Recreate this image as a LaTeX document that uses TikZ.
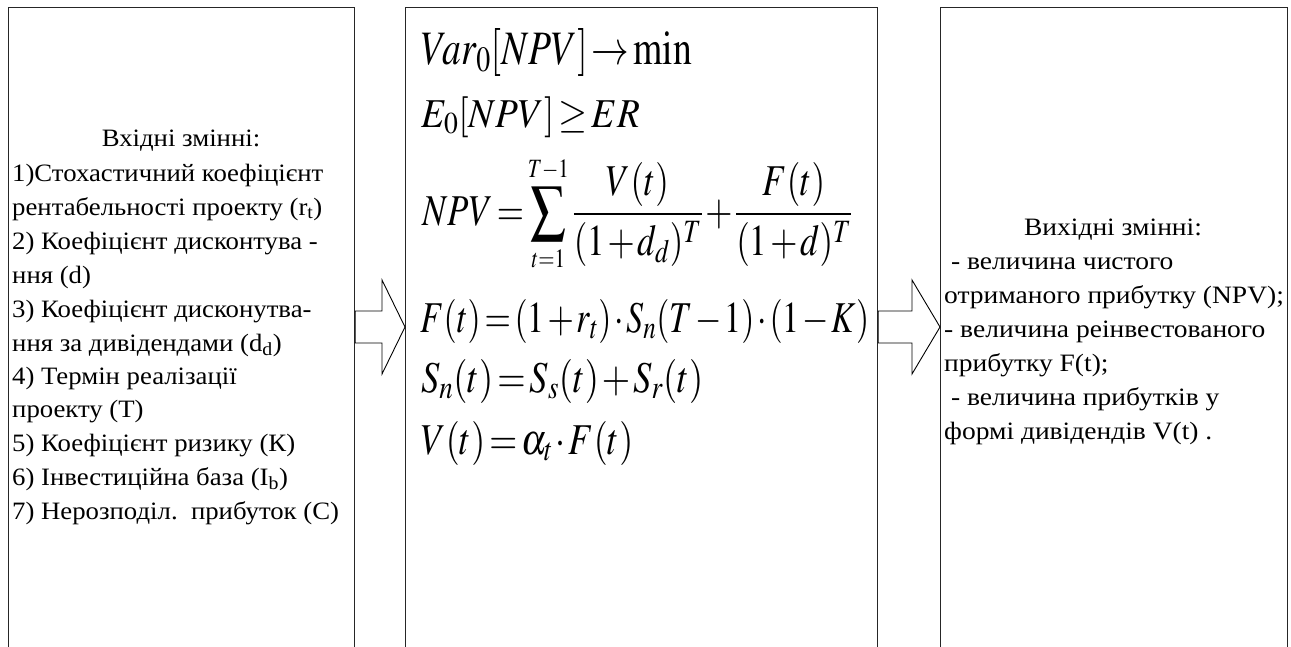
\documentclass[tikz,border=0pt]{standalone}
\usepackage{mathptmx}
\usepackage[no-math]{fontspec}
\setmainfont{Liberation Serif}
\newfontfamily\leftfont[FakeStretch=1.07]{Liberation Serif}
\newfontfamily\rightfont[FakeStretch=1.10]{Liberation Serif}
\usetikzlibrary{calc}
\thickmuskip=2mu plus 1mu
\medmuskip=1.5mu plus 1mu
\tikzset{
  panel/.style={draw=black!85, line width=1.2pt, fill=white, rectangle, anchor=north west, inner sep=0pt},
  blockarrow/.style={draw=black, line width=0.9pt, fill=white, line join=miter},
  txt/.style={anchor=base west, inner sep=0pt, font=\leftfont\fontsize{25}{28}\selectfont},
  ttl/.style={anchor=base, inner sep=0pt, font=\leftfont\fontsize{25}{28}\selectfont},
  rtxt/.style={anchor=base west, inner sep=0pt, font=\rightfont\fontsize{25}{28}\selectfont},
  rttl/.style={anchor=base, inner sep=0pt, font=\rightfont\fontsize{25}{28}\selectfont},
  frm/.style={anchor=base west, inner sep=0pt, font=\fontsize{44}{50}\selectfont}
}
\begin{document}
\begin{tikzpicture}[x=1pt,y=-1pt]
\useasboundingbox (0,0) rectangle (1291,646);
\clip (0,0) rectangle (1291,646);
\fill[white] (0,0) rectangle (1291,646);
% panels
\node[panel, minimum width=346pt, minimum height=700pt] (inbox) at (8,7) {};
\node[panel, minimum width=472pt, minimum height=700pt] (mid) at (405,7) {};
\node[panel, minimum width=347pt, minimum height=700pt] (outbox) at (940,7) {};
% block arrows
\draw[blockarrow] (inbox.north east |- 0,311) -- (382,311) -- (382,280) -- (mid.north west |- 0,327) -- (382,374) -- (382,343) -- (inbox.north east |- 0,343) -- cycle;
\draw[blockarrow] (mid.north east |- 0,311) -- (912,311) -- (912,280) -- (outbox.north west |- 0,327) -- (912,374) -- (912,343) -- (mid.north east |- 0,343) -- cycle;
% left text
\node[ttl] (l0) at (181,146) {Вхідні змінні:};
\node[txt] (l1) at (12,181) {1)Стохастичний коефіцієнт};
\node[txt] (l2) at (12,215) {рентабельності проекту (r\textsubscript{t})};
\node[txt] (l3) at (12,249) {2) Коефіцієнт дисконтува -};
\node[txt] (l4) at (12,283) {ння (d)};
\node[txt] (l5) at (12,317) {3) Коефіцієнт дисконутва-};
\node[txt] (l6) at (12,351) {ння за дивідендами (d\textsubscript{d})};
\node[txt] (l7) at (12,384) {4) Термін реалізації};
\node[txt] (l8) at (12,417) {проекту (Т)};
\node[txt] (l9) at (12,451) {5) Коефіцієнт ризику (К)};
\node[txt] (l10) at (12,485) {6) Інвестиційна база (I\textsubscript{b})};
\node[txt] (l11) at (12,519) {7) Нерозподіл.\ \ прибуток (С)};
% formulas
\node[frm, font=\fontsize{48}{54}\selectfont] (f1) at (421,64) {\resizebox{271pt}{\height}{$Var_0[NPV]\rightarrow\min$}};
\node[frm, font=\fontsize{41}{46}\selectfont] (f2) at (421,127) {\resizebox{219pt}{\height}{$E_0[NPV]\geq ER$}};
\node[frm] (f3) at (422,225) {\resizebox{430pt}{\height}{$\displaystyle NPV=\sum\limits_{\scriptscriptstyle t=1}^{\scriptscriptstyle T-1}\frac{V(t)}{(1+d_d)^T}+\frac{F(t)}{(1+d)^T}$}};
\node[frm] (f4) at (420,332) {\resizebox{449pt}{\height}{$F(t)=(1+r_t)\cdot S_n(T-1)\cdot(1-K)$}};
\node[frm] (f5) at (421,392) {\resizebox{282pt}{\height}{$S_n(t)=S_s(t)+S_r(t)$}};
\node[frm] (f6) at (421,454) {\resizebox{212pt}{\height}{$V(t)=\alpha_t\cdot F(t)$}};
% right text
\node[rttl] (r0) at (1113,235) {Вихідні змінні:};
\node[rtxt] (r1) at (944,269) {\ - величина чистого};
\node[rtxt] (r2) at (944,303) {отриманого прибутку (NPV);};
\node[rtxt] (r3) at (944,337) {- величина реінвестованого};
\node[rtxt] (r4) at (944,371) {прибутку F(t);};
\node[rtxt] (r5) at (944,405) {\ - величина прибутків у};
\node[rtxt] (r6) at (944,439) {формі дивідендів V(t) .};
\end{tikzpicture}
\end{document}
